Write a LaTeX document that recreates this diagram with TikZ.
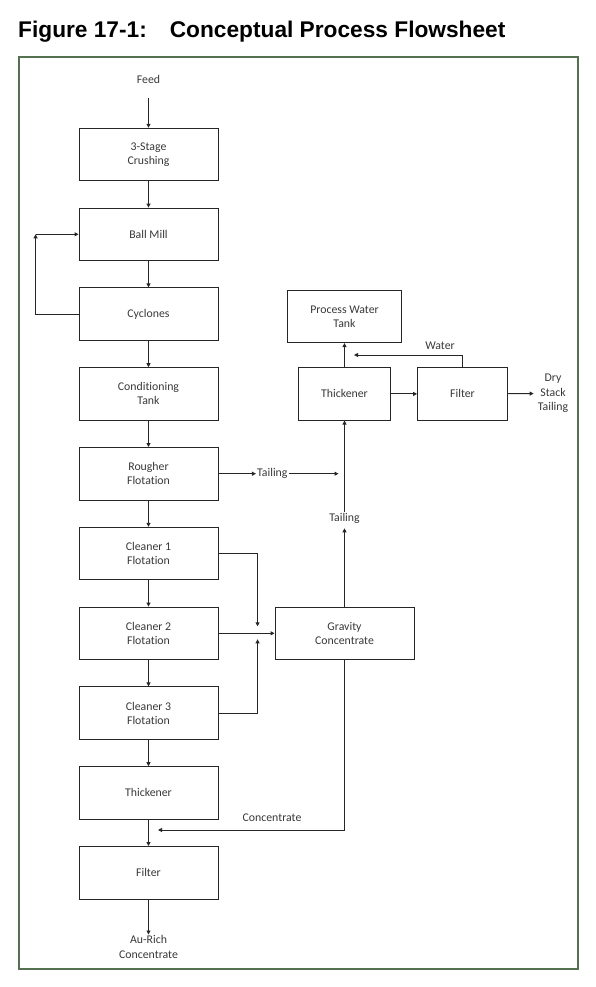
\documentclass[tikz,border=0pt]{standalone}
\usepackage{fontspec}
\setmainfont{Carlito}[Ligatures=NoCommon]
\newfontfamily\titlefont{Liberation Sans}
\usepackage{tikz}
\usetikzlibrary{positioning,arrows.meta}
\definecolor{framegreen}{RGB}{86,112,82}
\definecolor{textgray}{RGB}{56,56,56}

\begin{document}
\begin{tikzpicture}[x=1pt,y=-1pt,
		unitbox/.style={draw=black!85,line width=0.9pt,minimum width=139pt,minimum height=52.5pt,
			align=center,text=textgray,font=\fontsize{11.8}{14}\selectfont},
		streamlabel/.style={align=center,text=textgray,inner sep=1pt,font=\fontsize{11.8}{14.3}\selectfont},
		flow/.style={draw=black!85,line width=0.9pt,-{Triangle[length=4pt,width=4pt]}}
		]
		\useasboundingbox (0,0) rectangle (596,987);
		\node[anchor=base west,inner sep=0pt,font=\titlefont\bfseries\fontsize{22.7}{26}\selectfont](T) at (18,38)
		{Figure 17-1:\hspace{23pt}Conceptual Process Flowsheet};
		\draw[framegreen,line width=1.5pt] (19,57) rectangle (578,969);

		\node[streamlabel](Fd) at (148.5,79){Feed};
		\node[unitbox](Cr) at (148.5,154.5){3-Stage\\Crushing};
		\node[unitbox, below = 26.4pt of Cr](BM){Ball Mill};
		\node[unitbox, below = 26.4pt of BM](Cy){Cyclones};
		\node[unitbox, below = 26.4pt of Cy](CT){Conditioning\\Tank};
		\node[unitbox, below = 26.4pt of CT](RF){Rougher\\Flotation};
		\node[unitbox, below = 26.4pt of RF](CF1){Cleaner 1\\Flotation};
		\node[unitbox, below = 26.4pt of CF1](CF2){Cleaner 2\\Flotation};
		\node[unitbox, below = 26.4pt of CF2](CF3){Cleaner 3\\Flotation};
		\node[unitbox, below = 26.4pt of CF3](Th){Thickener};
		\node[unitbox, below = 26.4pt of Th](Fi){Filter};
		\node[streamlabel](AR) at (148.5,947){Au-Rich\\Concentrate};

		\node[unitbox, right = 56.1pt of CF2](Gr){Gravity\\Concentrate};
		\node[unitbox, minimum width=92pt, right = 79.6pt of CT](Th2){Thickener};
		\node[unitbox, minimum width=90pt, right = 26.1pt of Th2](Fi2){Filter};
		\node[unitbox, minimum width=114pt, above = 24.1pt of Th2](PW){Process Water\\Tank};

		\node[streamlabel, right = 37.5pt of RF](Tl1){Tailing};
		\node[streamlabel](Tl2) at (344.5,518){Tailing};
		\node[streamlabel](DS) at (553,393.5){Dry\\Stack\\Tailing};
		\node[streamlabel](Wa) at (440,346){Water};
		\node[streamlabel](Co) at (272,818){Concentrate};

		\coordinate(RC) at ([xshift=-43pt]BM.west);
		\coordinate(TJ) at ([xshift=-6pt]Tl1 -| Gr);
		\coordinate(J) at ([xshift=-17pt]Gr.west);
		\coordinate(J1) at ([yshift=7pt]J);
		\coordinate(J3) at ([yshift=-6pt]J);
		\coordinate(CJ) at (158,830);
		\coordinate(WJ) at (354,355);

		\draw[flow, shorten <=14pt] (Fd) -- (Cr);
		\foreach \a/\b in {Cr/BM,BM/Cy,Cy/CT,CT/RF,RF/CF1,CF1/CF2,CF2/CF3,CF3/Th,Th/Fi}
		\draw[flow] (\a) -- (\b);
		\draw[flow] (Fi) -- (AR);
		\draw[flow] (Cy.west) -| (RC);
		\draw[flow] (RC) -- (BM.west);
		\draw[flow] (RF) -- (Tl1);
		\draw[flow] (Tl1) -- (TJ);
		\draw[flow] (CF1) -| (J1);
		\draw[flow] (CF3) -| (J3);
		\draw[flow] (CF2) -- (Gr);
		\draw[flow, shorten >=4pt] (Gr) -- (Tl2);
		\draw[flow] (Tl2) -- (Th2);
		\draw[flow] (Th2) -- (PW);
		\draw[flow] (Th2) -- (Fi2);
		\draw[flow, shorten >=3pt] (Fi2) -- (DS);
		\draw[flow] (Fi2.north) |- (WJ);
		\draw[flow] (Gr.south) |- (CJ);
\end{tikzpicture}
\end{document}
